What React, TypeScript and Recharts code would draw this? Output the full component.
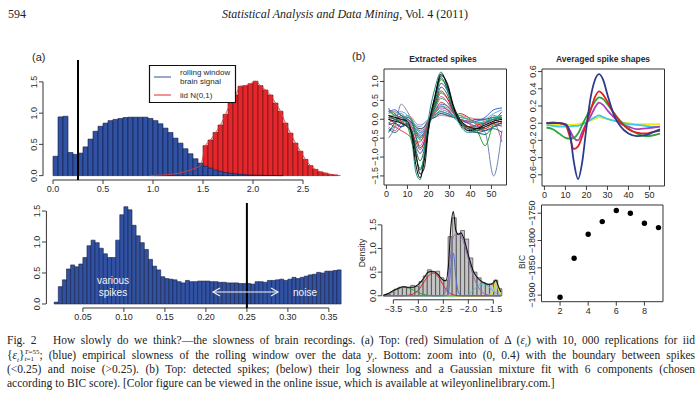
import React from 'react';
import {
  ComposedChart,
  LineChart,
  ScatterChart,
  Bar,
  Line,
  Scatter,
  XAxis,
  YAxis,
  ReferenceLine,
  ReferenceArea,
} from 'recharts';

const SANS = '"Liberation Sans", Arial, Helvetica, sans-serif';
const SERIF = '"Liberation Serif", "Times New Roman", serif';
const TXT = '#2a2a2a';

// ---------- Panel (a) top: slowness histograms ----------
const topBinStart = -0.1;
const topBinWidth = 0.05;
const topBlue: (number | null)[] = [
  null, null,
  0.31, 0.94, 0.95, 0.37, 0.34, 0.36, 0.46, 0.585, 0.71, 0.79,
  0.84, 0.88, 0.9, 0.915, 0.93, 0.935, 0.935, 0.935, 0.935, 0.915,
  0.88, 0.83, 0.76, 0.69, 0.6, 0.52, 0.43, 0.35, 0.27, 0.2,
  0.15, 0.12, 0.09, 0.07, 0.05, 0.04, 0.03, 0.02, 0.015, 0.01,
  0.008, 0.006, 0.004, 0.003, 0.002, 0.001, 0, 0, 0, 0,
  0, 0, 0, 0, 0, 0, 0, 0,
];
const topRed: (number | null)[] = [
  null, null,
  0, 0, 0, 0, 0, 0, 0, 0, 0, 0,
  0, 0, 0, 0, 0, 0, 0, 0, 0, 0,
  0.004, 0.008, 0.012, 0.02, 0.03, 0.045, 0.065, 0.09, 0.12, 0.16,
  0.48, 0.57, 0.69, 0.81, 0.98, 1.16, 1.29, 1.43, 1.44, 1.47,
  1.51, 1.44, 1.37, 1.29, 1.16, 1.03, 0.84, 0.68, 0.52, 0.39,
  0.26, 0.16, 0.1, 0.06, 0.04, 0.02, 0.01, 0,
];
const topXTicks = [0, 0.5, 1, 1.5, 2, 2.5];
const topYTicks = [0, 0.5, 1, 1.5];
const boundary = 0.25;

// ---------- Panel (a) bottom: zoom into (0, 0.4) ----------
const zoomBinStart = 0.005;
const zoomBinWidth = 0.005;
const zoomBlue: (number | null)[] = [
  null, null,
  0.03, 0.28, 0.39, 0.565, 0.63, 0.6, 0.645, 0.75, 0.94, 1.03,
  0.99, 0.9, 0.81, 0.75, 0.75, 1.03, 1.44, 1.57, 1.52, 1.27,
  1.1, 0.99, 0.88, 0.72, 0.61, 0.55, 0.44, 0.41, 0.4, 0.39,
  0.36, 0.34, 0.38, 0.36, 0.36,
  0.37, 0.37, 0.37, 0.36, 0.36, 0.35, 0.35, 0.34, 0.34, 0.34,
  0.33, 0.33, 0.33, 0.32, 0.36, 0.36, 0.35, 0.38, 0.38, 0.39,
  0.4, 0.38, 0.4, 0.43, 0.41, 0.43, 0.45, 0.47, 0.48, 0.51,
  0.5, 0.53, 0.53, 0.54, 0.55,
];
const zoomXTicks = [0.05, 0.1, 0.15, 0.2, 0.25, 0.3, 0.35];
const zoomYTicks = [0, 0.5, 1, 1.5];

// ---------- Panel (b) extracted spikes ----------
const spikeX = [1, 4, 7, 10, 12, 14, 16, 18, 20, 23, 26, 29, 32, 35, 39, 43, 47, 51, 55];
const spikeA = [-0.1, 0.0, 0.05, -0.1, -0.5, -1.4, -1.6, -0.9, 0.0, 0.8, 1.25, 0.85, 0.25, -0.15, -0.35, -0.3, -0.1, 0.0, 0.05];
const spikeB = [0.1, 0.05, 0.0, -0.05, -0.4, -1.2, -1.55, -1.1, -0.2, 0.6, 1.2, 0.9, 0.3, -0.1, -0.3, -0.25, -0.15, -0.05, 0.0];
const spikeC = [0.0, -0.1, -0.2, -0.1, -0.3, -0.6, -0.8, -0.6, -0.1, 0.4, 0.75, 0.55, 0.2, -0.1, -0.2, -0.15, -0.1, 0.0, -0.1];
const spikeD = [0.2, 0.1, -0.1, -0.2, -0.6, -1.0, -1.3, -1.0, -0.3, 0.5, 1.05, 0.8, 0.3, 0.0, -0.2, -0.3, -0.7, -0.1, 0.1];
const spikeE = [0.3, 0.1, 0.15, 0.0, -0.1, -0.3, -0.4, -0.3, -0.1, 0.1, 0.2, 0.15, 0.1, 0.0, -0.1, -0.2, -0.35, -1.5, -0.3];
const spikeF = [-0.2, -0.3, -0.1, 0.0, -0.2, -0.5, -0.7, -0.5, -0.1, 0.3, 0.6, 0.45, 0.15, -0.05, -0.25, -0.2, -0.15, -0.1, -0.6];
const spikeG = [0.2, 0.25, 0.1, 0.0, -0.1, -0.3, -0.45, -0.35, -0.1, 0.2, 0.4, 0.35, 0.15, 0.0, -0.1, -0.05, 0.05, 0.25, 0.3];
const spikeH = [-0.3, -0.2, -0.1, 0.1, 0.0, -0.2, -0.35, -0.3, -0.05, 0.15, 0.35, 0.3, 0.1, 0.05, 0.0, -0.1, -0.05, 0.05, 0.1];
const spikeI = [-0.5, -0.2, 0.4, 0.2, 0.0, -0.2, -0.3, -0.2, 0.0, 0.1, 0.25, 0.2, 0.1, 0.0, -0.1, -0.2, -0.1, 0.1, 0.0];
const spikeJ = [0.1, 0.0, -0.1, -0.2, -0.3, -0.8, -1.1, -0.8, -0.2, 0.35, 0.85, 0.65, 0.2, -0.05, -0.25, -0.3, -0.2, -0.1, -0.05];
const spikeK = [0.0, 0.1, 0.05, -0.05, -0.15, -0.25, -0.35, -0.25, -0.05, 0.15, 0.3, 0.25, 0.1, 0.0, -0.05, -0.1, -0.1, 0.0, 0.05];
const spikeL = [-0.1, -0.2, -0.3, -0.4, -0.5, -0.6, -0.6, -0.4, -0.1, 0.2, 0.45, 0.35, 0.15, 0.0, -0.1, -0.3, -0.25, -0.15, -0.1];
const spikeM = [0.05, 0.0, -0.05, 0.0, -0.1, -0.2, -0.25, -0.2, -0.05, 0.05, 0.15, 0.1, 0.05, 0.0, -0.05, 0.0, 0.0, 0.05, 0.0];
const spikeN = [0.15, 0.2, 0.1, 0.05, 0.0, -0.3, -0.5, -0.4, -0.1, 0.25, 0.55, 0.45, 0.2, 0.1, 0.0, -0.1, -0.1, 0.0, 0.1];
const spikeO = [0.0, -0.05, 0.0, -0.1, -0.2, -0.4, -0.55, -0.45, -0.15, 0.1, 0.2, 0.15, 0.05, -0.1, -0.2, -0.2, -0.1, 0.05, 0.0];
const spikeP = [-0.15, -0.1, -0.2, -0.15, -0.3, -0.7, -0.9, -0.7, -0.2, 0.45, 0.95, 0.75, 0.25, -0.05, -0.3, -0.35, -0.3, -0.2, -0.15];
const spikeQ = [0.1, 0.05, 0.0, 0.1, 0.05, -0.1, -0.15, -0.1, 0.0, 0.05, 0.1, 0.08, 0.05, 0.1, 0.05, 0.0, -0.05, -0.1, -0.2];
const spikeR = [0.0, -0.05, -0.1, -0.2, -0.35, -0.9, -1.45, -1.3, -0.3, 0.55, 1.15, 0.95, 0.35, 0.0, -0.2, -0.25, -0.2, -0.1, -0.05];
const spikeS = [0.25, 0.15, -0.05, -0.15, -0.2, -0.35, -0.5, -0.35, -0.1, 0.15, 0.35, 0.25, 0.1, 0.15, 0.05, -0.15, -0.25, -0.05, 0.2];
const spikeT = [-0.25, -0.35, -0.2, 0.05, -0.05, -0.45, -0.75, -0.6, -0.15, 0.3, 0.7, 0.55, 0.2, -0.05, -0.2, -0.25, -0.3, -0.25, -0.35];
const spikeU = [0.05, 0.15, 0.2, 0.1, -0.05, -0.15, -0.2, -0.1, 0.0, 0.1, 0.15, 0.12, 0.08, 0.05, 0.0, -0.05, 0.0, 0.15, 0.25];
const spikeV = [-0.35, -0.1, 0.1, -0.15, -0.3, -0.95, -1.35, -1.0, -0.25, 0.5, 1.1, 0.8, 0.3, -0.05, -0.25, -0.35, -0.4, -0.2, -0.1];
const spikeSeries: [string, number[], string][] = [
  ['e', spikeE, '#6f83b8'],
  ['i', spikeI, '#8f7fa6'],
  ['q', spikeQ, '#e07fb0'],
  ['u', spikeU, '#5dade2'],
  ['m', spikeM, '#444444'],
  ['k', spikeK, '#9b59b6'],
  ['s', spikeS, '#c0392b'],
  ['h', spikeH, '#36b7c9'],
  ['g', spikeG, '#3d5fcf'],
  ['o', spikeO, '#1f9a9a'],
  ['n', spikeN, '#4caf50'],
  ['f', spikeF, '#d94fa8'],
  ['t', spikeT, '#117a65'],
  ['c', spikeC, '#e41a1c'],
  ['l', spikeL, '#d6404a'],
  ['p', spikeP, '#2f4fb0'],
  ['j', spikeJ, '#1f6b3a'],
  ['d', spikeD, '#2ca02c'],
  ['v', spikeV, '#0e6655'],
  ['a', spikeA, '#1b8a80'],
  ['r', spikeR, '#151515'],
  ['b', spikeB, '#000000'],
];
const spikeXTicks = [0, 10, 20, 30, 40, 50];
const spikeYTicks = [-1.5, -1, -0.5, 0, 0.5, 1];

// ---------- Panel (b) averaged spike shapes ----------
const avgX = [1, 4, 7, 10, 12, 14, 16, 18, 20, 22, 24, 26, 28, 30, 33, 36, 40, 44, 48, 52, 55];
const avgNavy = [0, 0, 0, -0.01, -0.1, -0.45, -0.65, -0.45, -0.05, 0.3, 0.5, 0.57, 0.5, 0.33, 0.1, -0.03, -0.12, -0.15, -0.14, -0.1, -0.07];
const avgRed = [0, 0, 0, -0.02, -0.15, -0.3, -0.27, -0.15, 0.0, 0.15, 0.3, 0.37, 0.33, 0.25, 0.12, 0.02, -0.07, -0.11, -0.12, -0.1, -0.09];
const avgGreen = [-0.05, -0.07, -0.12, -0.17, -0.18, -0.17, -0.12, -0.02, 0.08, 0.17, 0.25, 0.3, 0.28, 0.22, 0.12, 0.03, -0.06, -0.12, -0.15, -0.14, -0.12];
const avgMagenta = [0, 0.01, 0, -0.02, -0.08, -0.17, -0.2, -0.1, 0.0, 0.08, 0.18, 0.24, 0.21, 0.15, 0.07, 0.0, -0.04, -0.07, -0.06, -0.05, -0.04];
const avgCyan = [-0.02, -0.03, -0.04, -0.04, -0.04, -0.03, -0.03, -0.01, 0.01, 0.04, 0.07, 0.09, 0.07, 0.05, 0.03, 0.01, -0.01, -0.02, -0.03, -0.04, -0.04];
const avgYellow = [-0.01, -0.02, -0.02, -0.02, -0.02, -0.02, -0.01, 0.0, 0.01, 0.03, 0.05, 0.07, 0.06, 0.05, 0.03, 0.01, 0.0, -0.01, -0.01, -0.01, -0.01];
const avgYTicks = [-0.6, -0.4, -0.2, 0, 0.2, 0.4, 0.6];

// ---------- Panel (b) log slowness density ----------
const densBinStart = -3.733;
const densBinWidth = 0.083;
const densBars: (number | null)[] = [
  null,
  0.03, 0.08, 0.14, 0.18, 0.19, 0.17, 0.22, 0.2, 0.3, 0.42,
  0.55, 0.5, 0.52, 0.38, 0.33, 1.25, 1.65, 1.3, 1.38, 1.2,
  0.8, 0.5, 0.38, 0.28, 0.25, 0.24, 0.33, 0.15,
  null,
];
const densX = [-3.7, -3.6, -3.5, -3.4, -3.3, -3.2, -3.1, -3.0, -2.9, -2.8, -2.7, -2.6, -2.5, -2.45, -2.4, -2.35, -2.3, -2.25, -2.2, -2.15, -2.1, -2.0, -1.9, -1.8, -1.7, -1.6, -1.5, -1.45, -1.4, -1.35];
const densMix = [0.01, 0.05, 0.11, 0.16, 0.19, 0.18, 0.18, 0.24, 0.36, 0.5, 0.52, 0.44, 0.33, 0.32, 0.62, 1.45, 1.78, 1.38, 1.3, 1.33, 1.24, 0.86, 0.52, 0.36, 0.28, 0.24, 0.27, 0.33, 0.2, 0.08];
const compGreen = [0.01, 0.05, 0.1, 0.15, 0.18, 0.17, 0.12, 0.07, 0.03, 0.01, 0, 0, 0, 0, 0, 0, 0, 0, 0, 0, 0, 0, 0, 0, 0, 0, 0, 0, 0, 0];
const compRed = [0, 0, 0, 0, 0, 0.01, 0.04, 0.12, 0.27, 0.42, 0.48, 0.4, 0.22, 0.14, 0.08, 0.04, 0.02, 0.01, 0, 0, 0, 0, 0, 0, 0, 0, 0, 0, 0, 0];
const compPurple = [0, 0, 0, 0, 0, 0, 0, 0, 0, 0, 0, 0, 0.02, 0.1, 0.35, 0.9, 1.25, 1.3, 1.32, 1.28, 1.15, 0.78, 0.42, 0.18, 0.06, 0.02, 0, 0, 0, 0];
const compBlue = [0, 0, 0, 0, 0, 0, 0, 0, 0, 0, 0, 0, 0, 0, 0.05, 0.6, 0.9, 0.4, 0.08, 0.01, 0, 0, 0, 0, 0, 0, 0, 0, 0, 0];
const compCyan = [0, 0, 0, 0, 0, 0, 0, 0, 0, 0, 0, 0, 0, 0, 0, 0, 0, 0, 0, 0, 0, 0.02, 0.12, 0.22, 0.25, 0.2, 0.1, 0.06, 0.03, 0.01];
const compYellow = [0, 0, 0, 0, 0, 0, 0, 0, 0, 0, 0, 0, 0, 0, 0, 0, 0, 0, 0, 0, 0, 0, 0, 0, 0, 0.01, 0.1, 0.3, 0.15, 0.02];
const densXTicks = [-3.5, -3, -2.5, -2, -1.5];
const densYTicks = [0, 0.5, 1, 1.5];

// ---------- Panel (b) BIC ----------
const bicK = [2, 3, 4, 5, 6, 7, 8, 9];
const bicValues = [-1904, -1832.6, -1788.6, -1765.4, -1745.2, -1750, -1768.4, -1776.4];
const bicXTicks = [2, 4, 6, 8];
const bicYTicks = [-1900, -1850, -1800, -1750];

// ---------- derived tables ----------
const topData = topBlue.map((b, i) => ({
  bin: i,
  mid: topBinStart + topBinWidth * (i + 0.5),
  blue: b,
  red: topRed[i],
  redLine: i >= 21 ? topRed[i] : null,
}));
const zoomData = zoomBlue.map((b, i) => ({
  bin: i,
  mid: zoomBinStart + zoomBinWidth * (i + 0.5),
  blue: b,
}));
const spikeData = spikeX.map((x, i) => {
  const row: Record<string, number> = { x };
  spikeSeries.forEach(([k, arr]) => {
    row[k] = arr[i];
  });
  return row;
});
const avgData = avgX.map((x, i) => ({
  x,
  navy: avgNavy[i],
  red: avgRed[i],
  green: avgGreen[i],
  magenta: avgMagenta[i],
  cyan: avgCyan[i],
  yellow: avgYellow[i],
}));
const densBarData = densBars.map((v, i) => ({
  bin: i,
  mid: densBinStart + densBinWidth * (i + 0.5),
  d: v,
}));
const densLineData = densX.map((x, i) => ({
  mid: x,
  mix: densMix[i],
  g: compGreen[i],
  r: compRed[i],
  p: compPurple[i],
  b: compBlue[i],
  c: compCyan[i],
  y: compYellow[i],
}));
const bicData = bicK.map((k, i) => ({ k, bic: bicValues[i] }));

// ---------- helpers ----------
const fmtNum = (digits: number) => (v: number) =>
  (v < 0 ? '\u2212' : '') + Math.abs(v).toFixed(digits);

const rotTick = (fmt: (v: number) => string) => (props: any) => {
  const { x, y, payload } = props;
  return (
    <text
      x={x}
      y={y}
      transform={`rotate(-90 ${x} ${y})`}
      textAnchor="middle"
      fontSize={9}
      fill={TXT}
      fontFamily={SANS}
    >
      {fmt(payload.value)}
    </text>
  );
};

const xTickStyle = { fontSize: 9, fill: TXT, fontFamily: SANS };
const tickLineStyle = { stroke: TXT, strokeWidth: 0.9 };
const AX = '#333';

const abs = (left: number, top: number): React.CSSProperties => ({
  position: 'absolute',
  left,
  top,
});

function TopHist() {
  return (
    <div style={abs(0, 50)}>
      <ComposedChart
        width={347}
        height={152}
        data={topData}
        margin={{ top: 10, right: 4, bottom: 0, left: 0 }}
        barCategoryGap={0}
        barGap={0}
      >
        <XAxis
          xAxisId="n"
          dataKey="mid"
          type="number"
          domain={[-0.1, 2.9]}
          allowDataOverflow
          ticks={topXTicks}
          interval={0}
          tickFormatter={fmtNum(1)}
          axisLine={false}
          tickLine={tickLineStyle}
          tickSize={4}
          tick={xTickStyle}
          height={22}
        />
        <XAxis xAxisId="cr" dataKey="bin" type="category" hide height={0} />
        <XAxis xAxisId="cb" dataKey="bin" type="category" hide height={0} />
        <YAxis
          type="number"
          domain={[-0.07, 1.85]}
          allowDataOverflow
          ticks={topYTicks}
          interval={0}
          width={43}
          axisLine={false}
          tickLine={tickLineStyle}
          tickSize={4}
          tick={rotTick(fmtNum(1))}
        />
        <Bar xAxisId="cr" dataKey="red" fill="#e5262b" stroke="#5a1414" strokeWidth={0.6} isAnimationActive={false} />
        <Bar xAxisId="cb" dataKey="blue" fill="#3152a3" stroke="#121c45" strokeWidth={0.6} isAnimationActive={false} />
        <Line
          xAxisId="n"
          dataKey="redLine"
          type="monotone"
          stroke="#e23a3a"
          strokeWidth={0.9}
          dot={false}
          isAnimationActive={false}
        />
        <ReferenceLine xAxisId="n" segment={[{ x: 0, y: -0.07 }, { x: 2.5, y: -0.07 }]} stroke={AX} strokeWidth={1} ifOverflow="visible" />
        <ReferenceLine xAxisId="n" segment={[{ x: -0.1, y: 0 }, { x: -0.1, y: 1.5 }]} stroke={AX} strokeWidth={1} ifOverflow="visible" />
        <ReferenceLine xAxisId="n" x={boundary} stroke="#000" strokeWidth={2} />
      </ComposedChart>
    </div>
  );
}

function ZoomHist() {
  return (
    <div style={abs(0, 198)}>
      <ComposedChart
        width={345.2}
        height={132}
        data={zoomData}
        margin={{ top: 5, right: 4, bottom: 0, left: 0 }}
        barCategoryGap={0}
        barGap={0}
      >
        <XAxis
          xAxisId="n"
          dataKey="mid"
          type="number"
          domain={[0.005, 0.365]}
          allowDataOverflow
          ticks={zoomXTicks}
          interval={0}
          tickFormatter={fmtNum(2)}
          axisLine={false}
          tickLine={tickLineStyle}
          tickSize={4}
          tick={xTickStyle}
          height={22}
        />
        <XAxis xAxisId="cb" dataKey="bin" type="category" hide height={0} />
        <YAxis
          type="number"
          domain={[-0.065, 1.63]}
          allowDataOverflow
          ticks={zoomYTicks}
          interval={0}
          width={46}
          axisLine={false}
          tickLine={tickLineStyle}
          tickSize={4}
          tick={rotTick(fmtNum(1))}
        />
        <Bar xAxisId="cb" dataKey="blue" fill="#3152a3" stroke="#121c45" strokeWidth={0.6} isAnimationActive={false} />
        <ReferenceLine xAxisId="n" segment={[{ x: 0.05, y: -0.065 }, { x: 0.35, y: -0.065 }]} stroke={AX} strokeWidth={1} ifOverflow="visible" />
        <ReferenceLine xAxisId="n" segment={[{ x: 0.0055, y: 0 }, { x: 0.0055, y: 1.5 }]} stroke={AX} strokeWidth={1} ifOverflow="visible" />
        <ReferenceLine xAxisId="n" x={boundary} stroke="#000" strokeWidth={2} />
      </ComposedChart>
    </div>
  );
}

function SpikesPanel() {
  return (
    <div style={abs(346, 64)}>
      <LineChart width={164.5} height={141} data={spikeData} margin={{ top: 5, right: 4, bottom: 0, left: 0 }}>
        <XAxis
          dataKey="x"
          type="number"
          domain={[-1.16, 57.16]}
          allowDataOverflow
          ticks={spikeXTicks}
          interval={0}
          axisLine={false}
          tickLine={tickLineStyle}
          tickSize={4}
          tick={xTickStyle}
          height={20}
        />
        <YAxis
          type="number"
          domain={[-1.74, 1.33]}
          allowDataOverflow
          ticks={spikeYTicks}
          interval={0}
          width={38}
          axisLine={false}
          tickLine={tickLineStyle}
          tickSize={4}
          tick={rotTick(fmtNum(1))}
        />
        {spikeSeries.map(([k, , color]) => (
          <Line
            key={k}
            dataKey={k}
            type="monotone"
            stroke={color}
            strokeWidth={1}
            dot={false}
            isAnimationActive={false}
          />
        ))}
        <ReferenceArea x1={-1.16} x2={57.16} y1={-1.74} y2={1.33} fill="none" stroke={AX} strokeWidth={1} ifOverflow="visible" />
      </LineChart>
    </div>
  );
}

function AvgPanel() {
  const lines: [string, string][] = [
    ['yellow', '#f2ea1c'],
    ['cyan', '#3ec8ea'],
    ['magenta', '#b23cb5'],
    ['green', '#2fa33a'],
    ['red', '#e1201c'],
    ['navy', '#2b3b8e'],
  ];
  return (
    <div style={abs(504, 64)}>
      <LineChart width={164.5} height={142} data={avgData} margin={{ top: 5, right: 4, bottom: 0, left: 0 }}>
        <XAxis
          dataKey="x"
          type="number"
          domain={[-1.16, 57.16]}
          allowDataOverflow
          ticks={spikeXTicks}
          interval={0}
          axisLine={false}
          tickLine={tickLineStyle}
          tickSize={4}
          tick={xTickStyle}
          height={20}
        />
        <YAxis
          type="number"
          domain={[-0.73, 0.63]}
          allowDataOverflow
          ticks={avgYTicks}
          interval={0}
          width={38}
          axisLine={false}
          tickLine={tickLineStyle}
          tickSize={4}
          tick={rotTick(fmtNum(1))}
        />
        {lines.map(([k, color]) => (
          <Line
            key={k}
            dataKey={k}
            type="monotone"
            stroke={color}
            strokeWidth={1.8}
            dot={false}
            isAnimationActive={false}
          />
        ))}
        <ReferenceArea x1={-1.16} x2={57.16} y1={-0.73} y2={0.63} fill="none" stroke={AX} strokeWidth={1} ifOverflow="visible" />
      </LineChart>
    </div>
  );
}

function DensityPanel() {
  const comps: [string, string, number][] = [
    ['y', '#e8e01c', 1.2],
    ['g', '#2ca02c', 1],
    ['c', '#3fc0d0', 1],
    ['r', '#d62728', 1],
    ['p', '#8e6bb8', 1],
    ['b', '#4f6fd0', 1],
    ['mix', '#111111', 1.1],
  ];
  return (
    <div style={abs(344, 200)}>
      <ComposedChart
        width={164.2}
        height={119.8}
        data={densBarData}
        margin={{ top: 5, right: 2, bottom: 0, left: 0 }}
        barCategoryGap={0}
        barGap={0}
      >
        <XAxis
          xAxisId="n"
          dataKey="mid"
          type="number"
          domain={[-3.733, -1.243]}
          allowDataOverflow
          ticks={densXTicks}
          interval={0}
          tickFormatter={fmtNum(1)}
          axisLine={false}
          tickLine={tickLineStyle}
          tickSize={4}
          tick={xTickStyle}
          height={20}
        />
        <XAxis xAxisId="cb" dataKey="bin" type="category" hide height={0} />
        <YAxis
          type="number"
          domain={[-0.085, 1.92]}
          allowDataOverflow
          ticks={densYTicks}
          interval={0}
          width={37.7}
          axisLine={false}
          tickLine={tickLineStyle}
          tickSize={4}
          tick={rotTick(fmtNum(1))}
        />
        <Bar xAxisId="cb" dataKey="d" fill="#c4c4c4" stroke="#2e2e2e" strokeWidth={0.6} isAnimationActive={false} />
        {comps.map(([k, color, w]) => (
          <Line
            key={k}
            xAxisId="n"
            data={densLineData}
            dataKey={k}
            type="monotone"
            stroke={color}
            strokeWidth={w}
            dot={false}
            isAnimationActive={false}
          />
        ))}
        <ReferenceLine xAxisId="n" segment={[{ x: -3.5, y: -0.085 }, { x: -1.5, y: -0.085 }]} stroke={AX} strokeWidth={1} ifOverflow="visible" />
        <ReferenceLine xAxisId="n" segment={[{ x: -3.73, y: 0 }, { x: -3.73, y: 1.5 }]} stroke={AX} strokeWidth={1} ifOverflow="visible" />
      </ComposedChart>
    </div>
  );
}

function BicPanel() {
  return (
    <div style={abs(504, 200)}>
      <ScatterChart width={163} height={121.7} margin={{ top: 5, right: 4, bottom: 0, left: 0 }}>
        <XAxis
          dataKey="k"
          type="number"
          domain={[0.68, 9.32]}
          allowDataOverflow
          ticks={bicXTicks}
          interval={0}
          axisLine={false}
          tickLine={tickLineStyle}
          tickSize={4}
          tick={xTickStyle}
          height={20}
        />
        <YAxis
          dataKey="bic"
          type="number"
          domain={[-1912, -1735]}
          allowDataOverflow
          ticks={bicYTicks}
          interval={0}
          width={37.5}
          axisLine={false}
          tickLine={tickLineStyle}
          tickSize={4}
          tick={rotTick(fmtNum(0))}
        />
        <Scatter
          data={bicData}
          isAnimationActive={false}
          shape={(p: any) => <circle cx={p.cx} cy={p.cy} r={2.7} fill="#000" />}
        />
        <ReferenceArea x1={0.68} x2={9.32} y1={-1912} y2={-1735} fill="none" stroke={AX} strokeWidth={1} ifOverflow="visible" />
      </ScatterChart>
    </div>
  );
}

function Overlay() {
  const arrowY = 292;
  return (
    <svg width={700} height={393} style={{ position: 'absolute', left: 0, top: 0, pointerEvents: 'none', zIndex: 5 }}>
      <g fontFamily={SANS} fill={TXT}>
        <text x={32} y={61} fontSize={11}>(a)</text>
        <text x={352} y={60} fontSize={11}>(b)</text>
        <text x={443} y={62} fontSize={8.5} fontWeight="bold" textAnchor="middle">Extracted spikes</text>
        <text x={603} y={62} fontSize={8.5} fontWeight="bold" textAnchor="middle">Averaged spike shapes</text>
        <text x={365} y={253} fontSize={8.5} textAnchor="middle" transform="rotate(-90 365 253)">Density</text>
        <text x={525} y={262} fontSize={8.5} textAnchor="middle" transform="rotate(-90 525 262)">BIC</text>
      </g>
      {/* legend box */}
      <path d="M149.5 65.5 H235.5 V102.5 H149.5 Z" fill="#ffffff" stroke="#111111" strokeWidth={1.2} />
      <g fontFamily={SANS} fontSize={8} fill={TXT}>
        <line x1={154} x2={171} y1={77} y2={77} stroke="#3152a3" strokeWidth={1} />
        <text x={180} y={75}>rolling window</text>
        <text x={180} y={84}>brain signal</text>
        <line x1={154} x2={171} y1={95} y2={95} stroke="#e5262b" strokeWidth={1} />
        <text x={180} y={98}>iid N(0,1)</text>
      </g>
      {/* annotations */}
      <g fontFamily={SANS} fontSize={10} fill="#f4f4f4" textAnchor="middle">
        <text x={113} y={284}>various</text>
        <text x={113} y={296}>spikes</text>
        <text x={305} y={296}>noise</text>
      </g>
      <g stroke="#f4f4f4" strokeWidth={1.1} fill="none">
        <line x1={213} x2={278} y1={arrowY} y2={arrowY} />
        <polyline points={`220,${arrowY - 4} 213,${arrowY} 220,${arrowY + 4}`} />
        <polyline points={`271,${arrowY - 4} 278,${arrowY} 271,${arrowY + 4}`} />
      </g>
    </svg>
  );
}

const captionLine: React.CSSProperties = {
  position: 'absolute',
  left: 7,
  width: 688,
  fontFamily: SERIF,
  fontSize: 11.5,
  lineHeight: '14px',
  color: '#222',
  whiteSpace: 'nowrap',
};
const justified: React.CSSProperties = {
  ...captionLine,
  whiteSpace: 'normal',
  textAlign: 'justify',
  textAlignLast: 'justify',
} as React.CSSProperties;

function Caption() {
  return (
    <>
      <div style={{ ...justified, top: 333 }}>
        Fig. 2 &nbsp; How slowly do we think?—the slowness of brain recordings. (a) Top: (red) Simulation of Δ (<i>ε<sub style={{ fontSize: 7 }}>t</sub></i>) with 10, 000 replications for iid
      </div>
      <div style={{ ...justified, top: 348 }}>
        {'{'}<i>ε<sub style={{ fontSize: 7 }}>t</sub></i>{'}'}
        <span style={{ display: 'inline-block', verticalAlign: 'middle', fontSize: 7, lineHeight: '7px', textAlign: 'left' }}>
          <i>T</i>=55<br />
          <i>t</i>=1
        </span>
        ; (blue) empirical slowness of the rolling window over the data <i>y<sub style={{ fontSize: 7 }}>t</sub></i>. Bottom: zoom into (0, 0.4) with the boundary between spikes
      </div>
      <div style={{ ...justified, top: 362 }}>
        (&lt;0.25) and noise (&gt;0.25). (b) Top: detected spikes; (below) their log slowness and a Gaussian mixture fit with 6 components (chosen
      </div>
      <div style={{ ...captionLine, top: 376 }}>
        according to BIC score). [Color figure can be viewed in the online issue, which is available at wileyonlinelibrary.com.]
      </div>
    </>
  );
}

export default function App() {
  return (
    <div
      style={{
        position: 'absolute',
        left: 0,
        top: 0,
        width: 700,
        height: 393,
        background: '#fff',
        overflow: 'hidden',
      }}
    >
      <div style={{ ...abs(8, 7), fontFamily: SERIF, fontSize: 12, color: '#222' }}>594</div>
      <div style={{ ...abs(222, 7), fontFamily: SERIF, fontSize: 12, color: '#222', whiteSpace: 'nowrap' }}>
        <i>Statistical Analysis and Data Mining</i>, Vol. 4 (2011)
      </div>
      <TopHist />
      <ZoomHist />
      <SpikesPanel />
      <AvgPanel />
      <DensityPanel />
      <BicPanel />
      <Overlay />
      <Caption />
    </div>
  );
}
